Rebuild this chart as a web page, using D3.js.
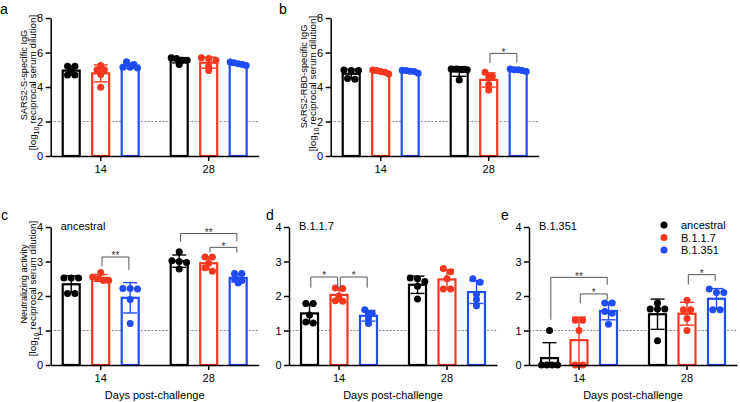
<!DOCTYPE html>
<html>
<head>
<meta charset="utf-8">
<script src="https://cdn.jsdelivr.net/npm/d3@7/dist/d3.min.js"></script>
<style>
  body { margin: 0; background: #fff; }
  svg { display: block; font-family: "Liberation Sans", Arial, Helvetica, sans-serif; }
</style>
</head>
<body>
<svg id="chart" width="740" height="402"></svg>
<script>
// ---------------- DATA ----------------
const days = ["14", "28"];
const series = ["ancestral", "B.1.1.7", "B.1.351"];

// a: SARS2-S-specific IgG (per series: 5 mice)
const sIgG_d14 = [[5.2, 5.2, 4.95, 4.7, 4.7], [5.25, 5.0, 5.0, 4.72, 3.98], [5.47, 5.3, 5.15, 5.15, 5.1]];
const sIgG_d28 = [[5.7, 5.65, 5.55, 5.55, 5.3], [5.7, 5.65, 5.55, 5.2, 4.95], [5.45, 5.4, 5.35, 5.3, 5.25]];
// b: SARS2-RBD-specific IgG
const rbdIgG_d14 = [[4.98, 4.95, 4.95, 4.5, 4.45], [4.98, 4.95, 4.9, 4.85, 4.75], [4.97, 4.95, 4.92, 4.9, 4.8]];
const rbdIgG_d28 = [[5.05, 5.05, 5.0, 5.0, 4.4], [4.85, 4.62, 4.6, 4.15, 3.82], [5.05, 5.0, 5.0, 4.95, 4.9]];
// c: neutralizing activity vs ancestral
const neutAnc_d14 = [[2.52, 2.52, 2.52, 2.07, 2.07], [2.68, 2.55, 2.5, 2.45, 2.45], [2.22, 2.22, 2.2, 1.9, 1.2]];
const neutAnc_d28 = [[3.28, 3.02, 3.0, 2.97, 2.78], [3.13, 3.13, 2.95, 2.82, 2.72], [2.65, 2.65, 2.5, 2.45, 2.38]];
// d: neutralizing activity vs B.1.1.7
const neutB117_d14 = [[1.78, 1.78, 1.45, 1.25, 1.22], [2.23, 2.22, 2.0, 1.86, 1.85], [1.6, 1.5, 1.48, 1.35, 1.2]];
const neutB117_d28 = [[2.52, 2.5, 2.42, 2.28, 1.91], [2.8, 2.7, 2.5, 2.2, 2.2], [2.5, 2.4, 2.05, 1.9, 1.72]];
// e: neutralizing activity vs B.1.351
const neutB1351_d14 = [[1.0, 0, 0, 0, 0], [1.3, 1.3, 1.0, 0, 0], [1.8, 1.8, 1.55, 1.5, 1.18]];
const neutB1351_d28 = [[1.8, 1.62, 1.62, 1.62, 0.7], [1.88, 1.6, 1.6, 1.35, 1.0], [2.2, 2.1, 2.1, 1.6, 1.6]];

// significance brackets: [day, fromSeries, toSeries, yLevel, leftLegEnd, rightLegEnd, label]
const sigB = [["28", 1, 2, 5.95, 5.4, 5.4, "*"]];
const sigC = [["14", 1, 2, 3.13, 2.86, 2.76, "**"], ["28", 0, 2, 3.81, 3.58, 3.58, "**"], ["28", 1, 2, 3.41, 3.26, 3.26, "*"]];
const sigD = [["14", 0, 1, 2.55, 2.24, 2.24, "*"], ["14", 1, 2, 2.55, 2.24, 2.24, "*"]];
const sigE = [["14", 0, 2, 2.54, 1.31, 2.33, "**"], ["14", 1, 2, 2.06, 1.79, 1.89, "*"], ["28", 1, 2, 2.62, 2.33, 2.44, "*"]];

const igTicks = [0, 2, 4, 6, 8];
const neutTicks = [0, 1, 2, 3, 4];
const igLimit = 2;    // detection limit lines
const neutLimit = 1;

// ---------------- STYLE ----------------
const colors = ["#000000", "#f5371f", "#1f4cf5"];
const svg = d3.select("#chart");
const FONT = '"Liberation Sans", Arial, Helvetica, sans-serif';

function drawPanel(cfg) {
  const g = svg.append("g");
  const x0 = cfg.x0, W = 208;
  const xOuter = d3.scaleBand().domain(days).range([x0, x0 + W]).paddingInner(0.278).paddingOuter(0.102);
  const xInner = d3.scaleBand().domain(series).range([0, xOuter.bandwidth()]).paddingInner(0.356).paddingOuter(0);
  const y = d3.scaleLinear().domain(cfg.domain).range(cfg.yRange);
  const cx = (day, si) => xOuter(day) + xInner(series[si]) + xInner.bandwidth() / 2;

  // y-axis title (two lines) drawn first so tick labels stay on top
  if (cfg.title) {
    g.append("text")
      .attr("transform", `translate(${x0 - 23.5},${cfg.titleY[0]}) rotate(-90)`)
      .attr("text-anchor", "middle").attr("font-size", 9.2).attr("fill", "#000")
      .text(cfg.title);
    const t2 = g.append("text")
      .attr("transform", `translate(${x0 - 14.5},${cfg.titleY[1]}) rotate(-90)`)
      .attr("text-anchor", "middle").attr("font-size", 9.8).attr("fill", "#000");
    t2.append("tspan").text("[log");
    t2.append("tspan").attr("font-size", 7.2).attr("dy", 2.5).text("10");
    t2.append("tspan").attr("dy", -2.5).text(" reciprocal serum dilution]");
  }

  // dashed limit line
  g.append("line")
    .attr("x1", x0).attr("x2", x0 + W)
    .attr("y1", y(cfg.limit)).attr("y2", y(cfg.limit))
    .attr("stroke", "#8a8a8a").attr("stroke-width", 1).attr("stroke-dasharray", "2,1.6");

  const dataByDay = { "14": cfg.d14, "28": cfg.d28 };
  days.forEach(day => {
    dataByDay[day].forEach((vals, si) => {
      const col = colors[si];
      const mean = d3.mean(vals);
      const sd = d3.deviation(vals);
      const bx = xOuter(day) + xInner(series[si]);
      const bw = xInner.bandwidth();
      // bar
      g.append("rect")
        .attr("x", bx + 1).attr("width", bw - 2)
        .attr("y", y(mean)).attr("height", y(0) - y(mean))
        .attr("fill", "#fff").attr("stroke", col).attr("stroke-width", 2.2);
      // error bar (mean ± SD)
      const c = bx + bw / 2;
      const lo = Math.max(cfg.domain[0], mean - sd), hi = mean + sd;
      const eg = g.append("g").attr("stroke", col).attr("stroke-width", 1.4);
      eg.append("line").attr("x1", c).attr("x2", c).attr("y1", y(lo)).attr("y2", y(hi));
      eg.append("line").attr("x1", c - 7).attr("x2", c + 7).attr("y1", y(hi)).attr("y2", y(hi));
      if (mean - sd > cfg.domain[0]) eg.append("line").attr("x1", c - 7).attr("x2", c + 7).attr("y1", y(lo)).attr("y2", y(lo));
      // points laid out in rows
      const idx = vals.map((v, i) => i).sort((a, b) => vals[b] - vals[a]);
      const rows = [];
      idx.forEach(i => {
        const last = rows[rows.length - 1];
        if (last && Math.abs(y(vals[i]) - y(vals[last[0]])) < 4) last.push(i);
        else rows.push([i]);
      });
      rows.forEach(r => {
        const k = r.length;
        const sp = k > 1 ? Math.min(7.3, 16 / (k - 1)) : 0;
        r.forEach((i, j) => {
          g.append("circle")
            .attr("cx", c + (j - (k - 1) / 2) * sp)
            .attr("cy", y(vals[i]))
            .attr("r", 3.5).attr("fill", col);
        });
      });
    });
  });

  // axes
  const yAxis = d3.axisLeft(y).tickValues(cfg.ticks).tickFormat(d3.format("d")).tickSize(5).tickPadding(2.5).tickSizeOuter(0);
  const ya = g.append("g").attr("transform", `translate(${x0},0)`).call(yAxis);
  const xAxis = d3.axisBottom(xOuter).tickSize(5).tickPadding(4).tickSizeOuter(0);
  const xa = g.append("g").attr("transform", `translate(0,${cfg.yRange[0]})`).call(xAxis);
  [ya, xa].forEach(a => {
    a.selectAll("path,line").attr("stroke", "#000").attr("stroke-width", 1.5);
    a.selectAll("text").attr("font-size", 11).attr("font-family", FONT).attr("fill", "#000");
  });

  // significance brackets
  (cfg.sig || []).forEach(s => {
    const [day, a, b, lv, l1, l2, lab] = s;
    const xa1 = cx(day, a) + 1.3, xb1 = cx(day, b) - 1.3;
    g.append("path")
      .attr("d", `M${xa1},${y(l1)}V${y(lv)}H${xb1}V${y(l2)}`)
      .attr("fill", "none").attr("stroke", "#555").attr("stroke-width", 1);
    g.append("text")
      .attr("x", (xa1 + xb1) / 2).attr("y", y(lv) + 2.2)
      .attr("text-anchor", "middle").attr("font-size", 10).attr("fill", "#333")
      .text(lab);
  });

  // panel letter
  g.append("text").attr("x", cfg.letterPos[0]).attr("y", cfg.letterPos[1])
    .attr("font-size", 14).attr("fill", "#000").text(cfg.letter);

  // inner label
  if (cfg.inner) {
    g.append("text").attr("x", x0 + 10).attr("y", cfg.yRange[1] + 3)
      .attr("font-size", 11).attr("fill", "#000").text(cfg.inner);
  }
  // x title
  if (cfg.xTitle) {
    g.append("text").attr("x", xOuter(days[0]) + xOuter.bandwidth() / 2 + 54).attr("y", 399)
      .attr("text-anchor", "middle").attr("font-size", 11).attr("fill", "#000").text("Days post-challenge");
  }
}

const topCfg = { yRange: [156, 18], domain: [0, 8], ticks: igTicks, limit: igLimit };
const botCfg = { yRange: [365, 227], domain: [0, 4], ticks: neutTicks, limit: neutLimit, xTitle: true };

drawPanel(Object.assign({}, topCfg, { x0: 50.7, d14: sIgG_d14, d28: sIgG_d28, letter: "a", letterPos: [0, 14],
  title: "SARS2-S-specific IgG", titleY: [75, 82.5] }));
drawPanel(Object.assign({}, topCfg, { x0: 330.7, d14: rbdIgG_d14, d28: rbdIgG_d28, sig: sigB, letter: "b", letterPos: [279, 14],
  title: "SARS2-RBD-specific IgG", titleY: [76.5, 83.5] }));
drawPanel(Object.assign({}, botCfg, { x0: 50.7, d14: neutAnc_d14, d28: neutAnc_d28, sig: sigC, letter: "c", letterPos: [1, 220],
  title: "Neutralizing activity", titleY: [284, 288.5], inner: "ancestral" }));
drawPanel(Object.assign({}, botCfg, { x0: 289, d14: neutB117_d14, d28: neutB117_d28, sig: sigD, letter: "d", letterPos: [266, 220],
  inner: "B.1.1.7" }));
drawPanel(Object.assign({}, botCfg, { x0: 529, d14: neutB1351_d14, d28: neutB1351_d28, sig: sigE, letter: "e", letterPos: [501, 220],
  inner: "B.1.351" }));

// legend (panel e)
const leg = svg.append("g").attr("transform", "translate(664,225)");
series.forEach((s, i) => {
  leg.append("circle").attr("cx", 0).attr("cy", i * 12.5).attr("r", 3.5).attr("fill", colors[i]);
  leg.append("text").attr("x", 17).attr("y", i * 12.5 + 4).attr("font-size", 11).attr("fill", "#000").text(s);
});
</script>
</body>
</html>
